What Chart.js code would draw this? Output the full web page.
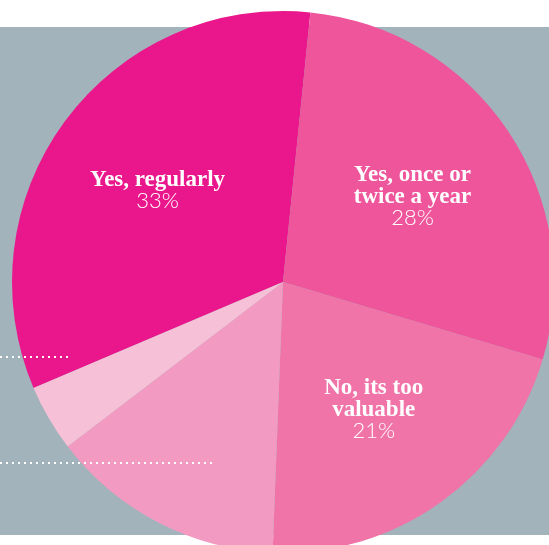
<!DOCTYPE html>
<html>
<head>
<meta charset="utf-8">
<script src="https://cdn.jsdelivr.net/npm/chart.js@4.4.1/dist/chart.umd.min.js"></script>
<style>
  html, body { margin: 0; padding: 0; background: #fff; overflow: hidden; }
  #wrap { position: absolute; left: 0; top: 0; width: 560px; height: 560px; }
</style>
</head>
<body>
<div id="wrap"><canvas id="pieChart" width="560" height="560"></canvas></div>
<script>
// Datos del gráfico (porcentajes)
const answers = ['Yes, regularly', 'Yes, once or twice a year', 'No, its too valuable', 'No', "Don't know"];
const shares = [33, 28, 21, 14, 4];
const sliceColors = ['#ea178c', '#ee559b', '#f074a8', '#f29ac1', '#f6c0d6'];
// Etiquetas partidas en líneas (sólo las que se ven)
const labelLines = [['Yes, regularly'], ['Yes, once or', 'twice a year'], ['No, its too', 'valuable'], null, null];

// fondo gris y líneas de puntos
const backdrop = {
    id: 'backdrop',
    beforeDraw(chart) {
        const ctx = chart.ctx;
        ctx.save();
        ctx.fillStyle = '#a2b3bc';
        ctx.fillRect(0, 27, chart.width, 508);
        ctx.restore();
    },
    afterDatasetsDraw(chart) {
        const ctx = chart.ctx;
        ctx.save();
        ctx.strokeStyle = '#ffffff';
        ctx.lineWidth = 2;
        ctx.setLineDash([2, 4]);
        ctx.beginPath();
        ctx.moveTo(0, 357); ctx.lineTo(70, 357);
        ctx.moveTo(0, 463); ctx.lineTo(215, 463);
        ctx.stroke();
        ctx.restore();
    }
};

// etiquetas dentro de las porciones
const sliceLabels = {
    id: 'sliceLabels',
    afterDatasetsDraw(chart) {
        const ctx = chart.ctx;
        const meta = chart.getDatasetMeta(0);
        ctx.save();
        ctx.fillStyle = '#ffffff';
        ctx.textAlign = 'center';
        ctx.textBaseline = 'alphabetic';
        meta.data.forEach((arc, i) => {
            const lines = labelLines[i];
            if (!lines) return;
            const p = arc.getProps(['x', 'y', 'startAngle', 'endAngle', 'outerRadius'], true);
            const mid = (p.startAngle + p.endAngle) / 2;
            const cx = p.x + Math.cos(mid) * p.outerRadius * 0.575;
            const cy = p.y + Math.sin(mid) * p.outerRadius * 0.575;
            let y = cy - (22 * lines.length - 15) / 2;
            ctx.font = 'bold 23px "Liberation Serif"';
            lines.forEach(line => {
                ctx.fillText(line, cx, y);
                y += 22;
            });
            ctx.font = '300 22px Lato';
            ctx.fillText(shares[i] + '%', cx, y);
        });
        ctx.restore();
    }
};

document.addEventListener('DOMContentLoaded', () => {
    const ctx = document.getElementById('pieChart').getContext('2d');
    new Chart(ctx, {
        type: 'pie',
        data: {
            labels: answers,
            datasets: [{
                data: shares,
                backgroundColor: sliceColors,
                borderWidth: 0,
                hoverOffset: 0,
                clip: false
            }]
        },
        options: {
            responsive: false,
            animation: false,
            rotation: 247,
            layout: { padding: { left: 12, top: 11, right: 6, bottom: 7 } },
            plugins: {
                legend: { display: false },
                tooltip: { enabled: false }
            }
        },
        plugins: [backdrop, sliceLabels]
    });
});
</script>
</body>
</html>
